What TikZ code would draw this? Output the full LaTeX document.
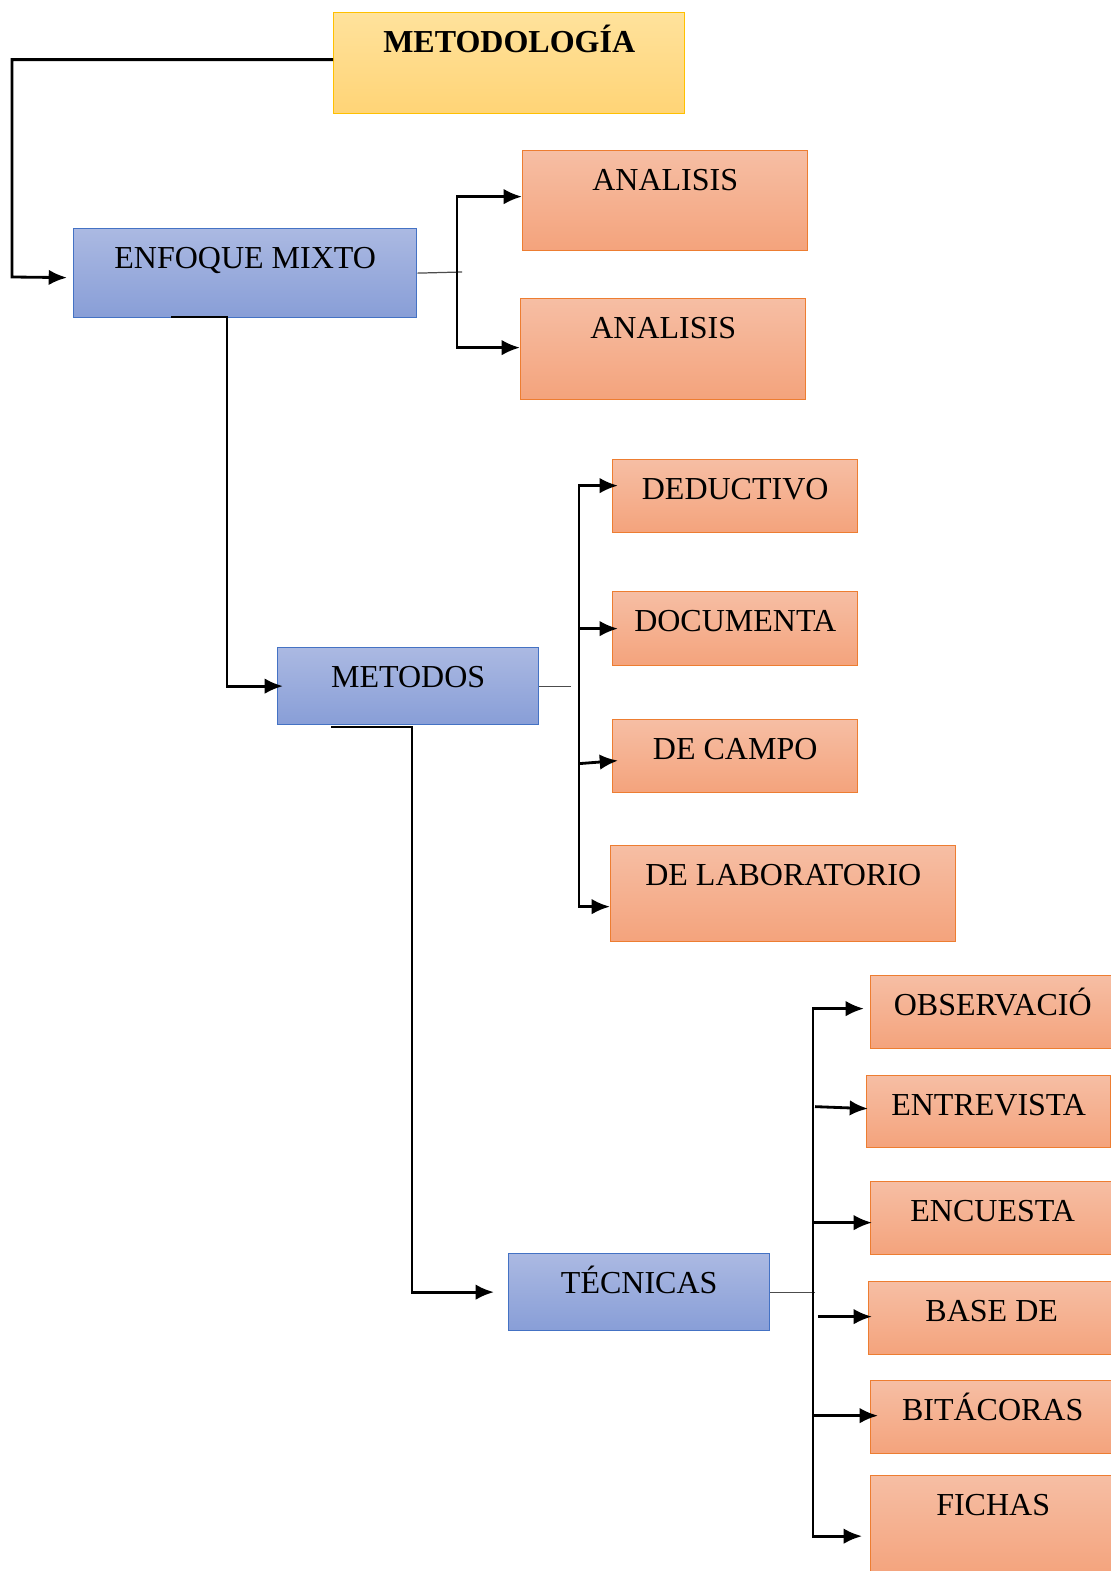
\documentclass[tikz,border=0pt]{standalone}
\usepackage{fontspec}
\setmainfont{Liberation Serif}
\usetikzlibrary{arrows.meta}

\definecolor{amarilloA}{RGB}{255,226,156}
\definecolor{amarilloB}{RGB}{255,212,118}
\definecolor{amarilloBorde}{RGB}{255,192,0}
\definecolor{azulA}{RGB}{171,185,226}
\definecolor{azulB}{RGB}{136,158,215}
\definecolor{azulBorde}{RGB}{68,114,196}
\definecolor{naranjaA}{RGB}{246,190,164}
\definecolor{naranjaB}{RGB}{244,163,124}
\definecolor{naranjaBorde}{RGB}{237,125,49}

\tikzset{
    caja/.style={draw, line width=0.35pt, anchor=north west, inner sep=0pt,
        text height=0.40cm, font=\fontsize{9.1pt}{11pt}\selectfont},
    amarilla/.style={caja, draw=amarilloBorde, top color=amarilloA, bottom color=amarilloB},
    azul/.style={caja, draw=azulBorde, top color=azulA, bottom color=azulB},
    naranja/.style={caja, draw=naranjaBorde, top color=naranjaA, bottom color=naranjaB},
    conector/.style={line width=0.8pt, >={Latex[length=5.2pt,width=4.4pt]}},
    delgada/.style={line width=0.35pt, black!70}
}

\begin{document}
\begin{tikzpicture}[x=0.01cm, y=-0.01cm]
    \useasboundingbox (0,0) rectangle (1110,1571);

    % Cajas principales
    \node[amarilla, minimum width=3.51cm, text depth=0.61cm, font=\fontsize{9.1pt}{11pt}\selectfont\bfseries] (metodologia) at (333,12) {METODOLOGÍA};
    \node[azul, minimum width=3.43cm, text depth=0.49cm] (enfoque) at (73,228) {ENFOQUE MIXTO};
    \node[azul, minimum width=2.61cm, text depth=0.37cm] (metodos) at (277,647) {METODOS};
    \node[azul, minimum width=2.61cm, text depth=0.37cm] (tecnicas) at (508,1253) {TÉCNICAS};

    % Enfoque
    \node[naranja, minimum width=2.85cm, text depth=0.60cm] (cuali) at (522,150) {ANALISIS};
    \node[naranja, minimum width=2.85cm, text depth=0.61cm] (cuanti) at (520,298) {ANALISIS};

    % Metodos
    \node[naranja, minimum width=2.45cm, text depth=0.33cm] (deductivo) at (612,459) {DEDUCTIVO};
    \node[naranja, minimum width=2.45cm, text depth=0.34cm] (documental) at (612,591) {DOCUMENTA};
    \node[naranja, minimum width=2.45cm, text depth=0.33cm] (campo) at (612,719) {DE CAMPO};
    \node[naranja, minimum width=3.45cm, text depth=0.56cm] (laboratorio) at (610,845) {DE LABORATORIO};

    % Tecnicas
    \node[naranja, minimum width=2.44cm, text depth=0.33cm] (observacion) at (870,975) {OBSERVACIÓ};
    \node[naranja, minimum width=2.44cm, text depth=0.32cm] (entrevista) at (866,1075) {ENTREVISTA};
    \node[naranja, minimum width=2.44cm, text depth=0.33cm] (encuesta) at (870,1181) {ENCUESTA};
    \node[naranja, minimum width=2.46cm, text depth=0.33cm] (base) at (868,1281) {BASE DE};
    \node[naranja, minimum width=2.44cm, text depth=0.33cm] (bitacoras) at (870,1380) {BITÁCORAS};
    \node[naranja, minimum width=2.45cm, text depth=0.61cm] (fichas) at (870,1475) {FICHAS};

    % Puntos de union
    \coordinate (u1) at (457,272);
    \coordinate (u2) at (579,686);
    \coordinate (u3) at (813,1290);
    \coordinate (s1) at (171,317);
    \coordinate (s2) at (331,727);

    % Conectores
    \draw[conector, ->] ([yshift=0.035cm]metodologia.west) -| (12,277) -- ([yshift=-0.045cm, xshift=-0.06cm]enfoque.west);

    \draw[delgada] (enfoque.east) -- ([xshift=0.05cm]u1);
    \draw[conector, <->] ([yshift=0.04cm]cuali.west) -| (u1) |- ([yshift=0.015cm]cuanti.west);

    \draw[conector, ->] (s1) -- ++(56,0) |- ([xshift=0.06cm]metodos.west);
    \draw[delgada] (metodos.east) -- ++(32,0);
    \draw[conector, <->] ([yshift=0.105cm, xshift=0.06cm]deductivo.west) -| (u2) |- ([yshift=-0.13cm]laboratorio.west);
    \draw[conector, ->] (u2 |- documental.west) -- ([xshift=0.06cm]documental.west);
    \draw[conector, ->] ([yshift=-0.075cm]u2 |- campo.west) -- ([yshift=-0.045cm, xshift=0.06cm]campo.west);

    \draw[conector, ->] (s2) -- ++(81,0) |- ([xshift=-0.14cm]tecnicas.west);
    \draw[delgada] (tecnicas.east) -- ++(45,0);
    \draw[conector, <->] ([yshift=0.035cm, xshift=-0.06cm]observacion.west) -| (u3) |- ([yshift=-0.10cm, xshift=-0.08cm]fichas.west);
    \draw[conector, ->] ([yshift=0.05cm, xshift=0.02cm]u3 |- entrevista.west) -- ([yshift=0.03cm, xshift=0.02cm]entrevista.west);
    \draw[conector, ->] ([yshift=-0.045cm]u3 |- encuesta.west) -- ([yshift=-0.045cm, xshift=0.02cm]encuesta.west);
    \draw[conector, ->] ([yshift=0.015cm, xshift=0.05cm]u3 |- base.west) -- ([yshift=0.015cm, xshift=0.04cm]base.west);
    \draw[conector, ->] ([yshift=0.015cm]u3 |- bitacoras.west) -- ([yshift=0.015cm, xshift=0.08cm]bitacoras.west);
\end{tikzpicture}
\end{document}
